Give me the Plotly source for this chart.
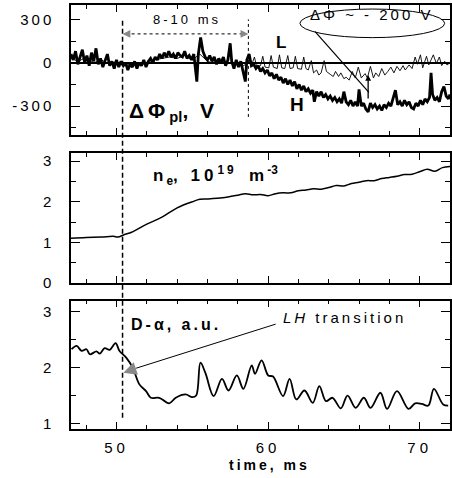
import plotly.graph_objects as go

# ---------------- data ----------------
# Panel 1: plasma potential change (V), H (thick) and L (thin)
H_t = [47.0,47.15,47.3,47.45,47.6,47.75,47.9,48.05,48.2,48.35,48.5,48.65,48.8,48.95,49.1,49.25,49.4,49.55,49.7,49.85,
       50.0,50.15,50.3,50.45,50.6,50.75,50.9,51.05,51.2,51.35,51.5,51.65,51.8,51.95,52.1,52.25,52.4,52.55,52.7,52.85,
       53.0,53.15,53.3,53.45,53.6,53.75,53.9,54.05,54.2,54.35,54.5,54.65,54.8,54.95,55.1,55.3,55.4,55.55,55.7,55.85,
       56.0,56.15,56.3,56.45,56.6,56.75,56.9,57.05,57.2,57.35,57.5,57.6,57.75,57.9,58.05,58.2,58.35,58.5,58.6,58.75,
       58.9,59.05,59.2,59.35,59.5,59.65,59.8,59.95,60.1,60.25,60.4,60.55,60.7,60.85,61.0,61.15,61.3,61.45,61.6,61.75,
       61.9,62.05,62.2,62.35,62.5,62.65,62.8,62.95,63.05,63.2,63.35,63.5,63.65,63.8,63.95,64.1,64.25,64.4,64.55,64.7,
       64.85,65.0,65.15,65.3,65.45,65.6,65.75,65.9,66.0,66.15,66.3,66.45,66.6,66.75,66.9,67.05,67.2,67.35,67.5,67.65,
       67.8,67.95,68.1,68.25,68.4,68.55,68.7,68.85,69.0,69.15,69.3,69.45,69.6,69.75,69.9,70.05,70.2,70.35,70.5,70.65,
       70.75,70.85,71.0,71.15,71.3,71.45,71.6,71.75,71.9,72.0]
H_v = [60,20,80,-10,40,90,0,50,-20,70,10,100,-10,30,-30,20,60,-20,10,-40,
       20,-30,10,-20,0,-50,-10,-30,10,-40,0,-20,20,-30,10,30,0,40,20,60,
       30,70,40,80,40,60,30,70,50,40,80,30,50,20,60,-130,60,175,80,40,
       20,50,10,40,-10,30,0,40,-20,20,135,10,-40,20,-30,10,-50,-130,20,60,
       -20,-10,-40,-20,-60,-40,-70,-50,-90,-70,-110,-80,-120,-100,-140,-110,-150,-120,-160,-130,
       -180,-150,-190,-160,-200,-180,-210,-190,-270,-200,-230,-200,-240,-220,-250,-230,-260,-240,-270,-250,
       -280,-200,-270,-290,-260,-300,-270,-300,-185,-300,-280,-320,-340,-280,-310,-290,-320,-300,-330,-290,
       -310,-280,-300,-250,-190,-290,-270,-300,-260,-290,-270,-310,-320,-280,-300,-260,-290,-250,-270,-240,
       -70,-220,-260,-240,-270,-200,-165,-230,-250,-220]

L_t = [47.0,47.5,48.0,48.5,49.0,49.5,50.0,50.5,51.0,51.5,52.0,52.5,53.0,53.5,54.0,54.5,55.0,55.5,56.0,56.3,
       56.6,56.9,57.2,57.5,57.8,58.1,58.4,58.7,58.9,59.1,59.25,59.5,59.65,59.8,60.05,60.2,60.35,60.6,60.75,60.9,
       61.1,61.3,61.45,61.65,61.8,61.95,62.2,62.35,62.5,62.65,62.85,63.0,63.2,63.35,63.5,63.7,63.85,64.1,64.3,64.45,
       64.65,64.8,65.0,65.15,65.35,65.55,65.75,65.95,66.15,66.4,66.55,66.75,66.95,67.1,67.3,67.5,67.7,67.9,68.1,68.3,
       68.5,68.7,68.9,69.05,69.3,69.5,69.7,69.85,70.05,70.2,70.45,70.6,70.75,70.9,71.1,71.3,71.45,71.65,71.8,72.0]
L_v = [30,10,40,0,20,-10,10,-20,-10,0,-10,20,30,40,30,50,20,60,10,0,
       10,-5,5,0,-10,0,-20,10,-20,40,-30,-20,45,-30,-35,50,-30,-40,55,-35,
       -40,50,-40,-35,45,-40,-45,40,-40,-50,15,-70,-50,-85,-70,15,-60,-80,-95,-60,
       -95,-70,-110,-100,-120,-60,-105,-30,-105,-75,-105,-25,-105,-70,-95,-40,-85,-60,-30,-70,
       -25,-55,-20,-50,-15,-40,40,-10,55,-35,45,-15,20,55,-5,40,-20,10,-15,0]

# Panel 2: electron density, 1e19 m^-3
ne_t = [47,48,49,49.8,50.1,50.5,51,52,53,54,55,55.5,56,57,57.5,58,58.5,59,59.5,60,
        60.5,61,61.5,62,62.5,63,63.5,64,64.5,65,65.5,66,66.5,67,67.5,68,68.5,69,69.5,70,
        70.5,71,71.5,72]
ne_v = [1.10,1.12,1.13,1.15,1.13,1.19,1.25,1.45,1.62,1.85,2.00,2.06,2.07,2.10,2.13,2.16,2.20,2.17,2.18,2.15,
        2.20,2.22,2.22,2.27,2.29,2.32,2.31,2.35,2.40,2.39,2.45,2.48,2.52,2.52,2.57,2.60,2.63,2.67,2.68,2.74,
        2.80,2.75,2.84,2.87]

# Panel 3: D-alpha, a.u.
da_t = [47.04,47.37,47.70,48.02,48.24,48.68,48.90,49.22,49.55,49.94,50.20,50.64,51.07,51.51,51.95,52.27,52.82,53.47,53.91,54.56,
        55.00,55.26,55.54,55.87,56.41,56.96,57.39,57.94,58.37,58.92,59.14,59.57,60.01,60.33,60.99,61.42,61.86,62.40,62.95,63.38,
        63.82,64.25,64.80,65.24,65.78,66.32,66.76,67.41,67.85,68.50,69.27,69.70,70.14,70.57,70.94,71.55,71.88]
da_v = [2.33,2.39,2.30,2.33,2.24,2.29,2.25,2.35,2.32,2.44,2.30,2.18,2.00,1.70,1.58,1.46,1.46,1.36,1.46,1.52,
        1.47,1.50,2.09,1.90,1.49,1.80,1.59,1.86,1.62,2.04,1.89,2.13,1.86,1.84,1.49,1.80,1.43,1.59,1.37,1.67,
        1.40,1.46,1.27,1.50,1.28,1.46,1.28,1.55,1.26,1.58,1.26,1.36,1.35,1.32,1.62,1.34,1.32]

X_RANGE = [47, 72]
Y1_RANGE = [-500, 400]
Y2_RANGE = [0, 3.2]
Y3_RANGE = [0.9, 3.2]
X_TICKS = [50, 60, 70]
Y1_TICKS = [-300, 0, 300]
Y2_TICKS = [0, 1, 2, 3]
Y3_TICKS = [1, 2, 3]

D1 = [0.6934, 1.0]
D2 = [0.3443, 0.6509]
D3 = [0.0, 0.3026]

FONT = "Liberation Sans, Arial, sans-serif"

def sp(s, ls=2):
    return '<span style="letter-spacing:%dpx">%s</span>' % (ls, s)

def paper_y(dom, rng, v):
    return dom[0] + (v - rng[0]) / (rng[1] - rng[0]) * (dom[1] - dom[0])

fig = go.Figure()
fig.add_trace(go.Scatter(x=L_t, y=L_v, mode="lines", line=dict(color="black", width=0.9),
                         xaxis="x", yaxis="y", showlegend=False))
fig.add_trace(go.Scatter(x=H_t, y=H_v, mode="lines", line=dict(color="black", width=2.8),
                         xaxis="x", yaxis="y", showlegend=False))
fig.add_trace(go.Scatter(x=ne_t, y=ne_v, mode="lines", line=dict(color="black", width=1.5, shape="spline"),
                         xaxis="x2", yaxis="y2", showlegend=False))
fig.add_trace(go.Scatter(x=da_t, y=da_v, mode="lines", line=dict(color="black", width=1.8, shape="spline"),
                         xaxis="x3", yaxis="y3", showlegend=False))

def xax(anchor, labels):
    return dict(range=X_RANGE, domain=[0, 1], anchor=anchor, showline=True, linecolor="black", linewidth=1.5,
                mirror="ticks", ticks="inside", ticklen=7, tickwidth=1.3, tickcolor="black",
                tickmode="array", tickvals=X_TICKS, ticktext=[sp(str(v), 4) for v in X_TICKS],
                showticklabels=labels, tickfont=dict(family=FONT, size=15, color="black"),
                minor=dict(dtick=2, tick0=0, ticks="inside", ticklen=4, tickwidth=1.2, tickcolor="black"),
                showgrid=False, zeroline=False, ticklabelstandoff=4)

def yax(dom, rng, vals, mdt, zl=False):
    return dict(range=rng, domain=dom, anchor="x", showline=True, linecolor="black", linewidth=1.5,
                mirror="ticks", ticks="inside", ticklen=9, tickwidth=1.3, tickcolor="black",
                tickmode="array", tickvals=vals, ticktext=[sp(str(v), 3) for v in vals],
                tickfont=dict(family=FONT, size=15, color="black"),
                minor=dict(dtick=mdt, tick0=0, ticks="inside", ticklen=5, tickwidth=1.2, tickcolor="black"),
                showgrid=False, zeroline=zl, zerolinecolor="black", zerolinewidth=1.5, ticklabelstandoff=12)

fig.update_layout(
    width=452, height=478,
    margin=dict(l=71, r=0, t=5, b=49),
    paper_bgcolor="white", plot_bgcolor="white",
    font=dict(family=FONT, color="black"),
    xaxis=xax("y", False),
    xaxis2=xax("y2", False),
    xaxis3=xax("y3", True),
    yaxis=yax(D1, Y1_RANGE, Y1_TICKS, 150, zl=True),
    yaxis2=yax(D2, Y2_RANGE, Y2_TICKS, 0.5),
    yaxis3=yax(D3, Y3_RANGE, Y3_TICKS, 0.5),
)
fig.update_layout(xaxis2=dict(anchor="y2"), xaxis3=dict(anchor="y3"),
                  yaxis2=dict(anchor="x2"), yaxis3=dict(anchor="x3"))

shapes = []
shapes.append(dict(type="line", xref="x", yref="paper", x0=50.4, x1=50.4,
                   y0=paper_y(D3, Y3_RANGE, 1.1), y1=paper_y(D1, Y1_RANGE, 300),
                   line=dict(color="black", width=1.5, dash="5px,3px")))
shapes.append(dict(type="line", xref="x", yref="y", x0=58.7, x1=58.7, y0=-375, y1=300,
                   line=dict(color="black", width=1, dash="3px,3px")))
shapes.append(dict(type="line", xref="x", yref="y", x0=50.6, x1=58.5, y0=200, y1=200,
                   line=dict(color="black", width=1, dash="3px,3px")))
shapes.append(dict(type="circle", xref="x", yref="y", x0=62.1, x1=71.65, y0=174, y1=372,
                   line=dict(color="black", width=1)))
shapes.append(dict(type="line", xref="x", yref="y", x0=63.1, x1=66.65, y0=215, y1=-205,
                   line=dict(color="black", width=1.2)))
shapes.append(dict(type="line", xref="x3", yref="y3", x0=60.5, x1=51.3, y0=2.78, y1=1.99,
                   line=dict(color="black", width=1)))
fig.update_layout(shapes=shapes)

ann = []
ann.append(dict(x=50.4, y=200, xref="x", yref="y", ax=9, ay=0, showarrow=True, arrowhead=2,
                arrowsize=1.3, arrowwidth=1.2, arrowcolor="#888", text=""))
ann.append(dict(x=58.7, y=200, xref="x", yref="y", ax=-9, ay=0, showarrow=True, arrowhead=2,
                arrowsize=1.3, arrowwidth=1.2, arrowcolor="#888", text=""))
ann.append(dict(x=54.65, y=300, xref="x", yref="y", text=sp("8-10 ms", 3), showarrow=False,
                font=dict(family=FONT, size=13)))
ann.append(dict(x=66.6, y=-84, ax=66.6, ay=-258, xref="x", yref="y", axref="x", ayref="y",
                showarrow=True, arrowhead=2, arrowsize=0.9, arrowwidth=1.3, arrowcolor="black", text=""))
ann.append(dict(x=66.8, y=335, xref="x", yref="y", text=sp("ΔΦ ~ - 200 V", 3), showarrow=False,
                font=dict(family=FONT, size=15)))
ann.append(dict(x=60.86, y=140, xref="x", yref="y", text="<b>L</b>", showarrow=False,
                font=dict(family=FONT, size=17)))
ann.append(dict(x=61.9, y=-290, xref="x", yref="y", text="<b>H</b>", showarrow=False,
                font=dict(family=FONT, size=19)))
ann.append(dict(x=50.7, y=-342, xref="x", yref="y", xanchor="left", showarrow=False,
                text="<b>" + sp("ΔΦ", 4) + "<sub>pl</sub>" + sp(", V", 3) + "</b>", font=dict(family=FONT, size=21)))
ann.append(dict(x=52.3, y=2.65, xref="x2", yref="y2", xanchor="left", showarrow=False,
                text="<b>" + sp("n", 3) + "<sub>e</sub>" + sp(", 10", 4) + "<sup>" + sp("19", 3) + "</sup> "
                     + sp(" m", 3) + "<sup>-3</sup></b>",
                font=dict(family=FONT, size=17)))
ann.append(dict(x=50.85, y=2.78, xref="x3", yref="y3", xanchor="left", showarrow=False,
                text="<b>" + sp("D-α, a.u.", 3) + "</b>", font=dict(family=FONT, size=16)))
ann.append(dict(x=50.45, y=1.91, xref="x3", yref="y3", ax=15, ay=-5, showarrow=True, arrowhead=2,
                arrowsize=2.2, arrowwidth=1.2, arrowcolor="#888", text=""))
ann.append(dict(x=60.86, y=2.89, xref="x3", yref="y3", xanchor="left", showarrow=False,
                text=sp("<i>LH</i> transition", 3), font=dict(family=FONT, size=15)))
ann.append(dict(x=0.525, y=-0.085, xref="paper", yref="paper", yanchor="middle", showarrow=False,
                text="<b>" + sp("time, ms", 3) + "</b>", font=dict(family=FONT, size=14)))
fig.update_layout(annotations=ann)

fig.write_html("out.html", config={"displayModeBar": False},
               post_script="document.body.style.margin='0';document.body.style.overflow='hidden';")
